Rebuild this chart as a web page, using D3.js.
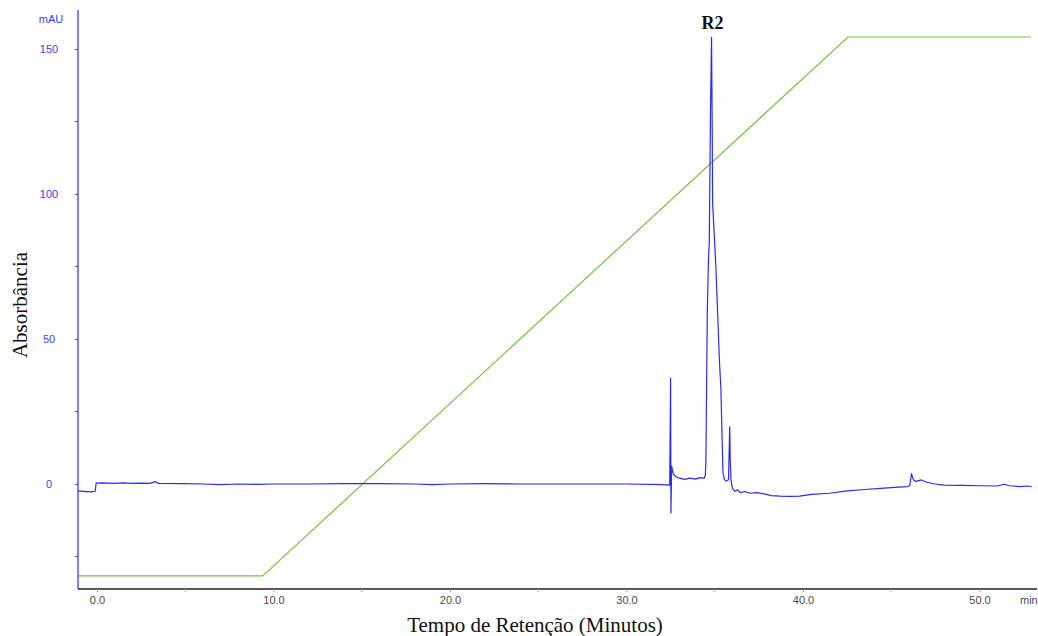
<!DOCTYPE html>
<html>
<head>
<meta charset="utf-8">
<script src="https://cdn.jsdelivr.net/npm/d3@7"></script>
<style>
  html, body { margin: 0; padding: 0; background: #fff; }
  svg { display: block; }
</style>
</head>
<body>
<svg id="chart" width="1038" height="636"></svg>
<script>
// Retention time (min) and absorbance (mAU) of the UV trace
const traceTime = [
  -1.08, -0.6, -0.3, -0.1, -0.05, 0.3, 1.0, 1.5, 2.0, 2.5, 3.0, 3.3, 3.5,
  5, 6, 7, 8, 9, 10, 12, 14, 16, 18, 19, 20, 22, 24, 26, 28, 30, 32, 32.45,
  32.50, 32.52, 32.56, 32.65, 32.8, 33.0, 33.3, 33.6, 33.9, 34.2, 34.4,
  34.47, 34.50, 34.54, 34.58, 34.65, 34.69, 34.72, 34.76, 34.82, 34.86, 34.88,
  34.96, 35.07, 35.18, 35.27, 35.35, 35.42, 35.47, 35.55, 35.65, 35.78,
  35.85, 35.88, 35.92, 36.0, 36.15, 36.3, 36.45, 36.7, 37.0, 37.4, 37.8,
  38.2, 38.7, 39.3, 39.8, 40.5, 41.5, 42.5, 43.5, 44.4, 45.2, 45.9, 46.05,
  46.15, 46.25, 46.4, 46.7, 47.0, 47.5, 48.0, 49.0, 50.0, 51.0, 51.4, 51.7,
  52.3, 52.7, 52.95
];
const traceAbs = [
  -2.4, -2.6, -2.7, -2.5, 0.3, 0.4, 0.2, 0.4, 0.2, 0.3, 0.2, 0.8, 0.2,
  0.1, 0.0, -0.2, 0.0, -0.1, 0.0, 0.0, 0.1, 0.1, 0.0, -0.2, 0.0, 0.1, 0.0, 0.0, 0.0, 0.0, -0.2, -0.4,
  36.5, -10, 6.2, 3.5, 2.5, 2.0, 1.6, 2.0, 1.7, 2.2, 2.0,
  3, 8, 34, 60, 78, 83, 101, 128, 154, 120, 97,
  87.6, 74, 56.6, 42, 33, 15, 3.8, 1.5, 1.0, 1.5,
  19.7, 8, 1.5, -1.5, -2.5, -2.0, -3.0, -2.6, -3.2, -3.0, -3.4,
  -4.0, -4.2, -4.3, -4.2, -3.6, -3.2, -2.4, -1.9, -1.5, -1.2, -0.9, -0.6,
  3.6, 1.5, 0.9, 1.4, 0.6, 0.0, -0.4, -0.5, -0.6, -0.7, -0.1, -0.6,
  -0.9, -0.7, -0.9
];

// Solvent gradient program (% B)
const gradTime = [-1.08, 9.39, 42.55, 52.92];
const gradPct = [0, 0, 100, 100];

// Axis ticks
const xTickLabels = [0, 10, 20, 30, 40, 50];
const xMinorTicks = [5, 15, 25, 35, 45];
const yTickLabels = [0, 50, 100, 150];
const yMinorTicks = [-25, 25, 75, 125];

// Peak annotation
const peakLabels = ["R2"];
const peakTimes = [34.82];
const peakHeights = [154];

const svg = d3.select("#chart");

const x = d3.scaleLinear().domain([-1.076, 53.26]).range([78, 1037]);
const y = d3.scaleLinear().domain([-36.2, 163.4]).range([589, 10]);
const yGrad = d3.scaleLinear().domain([0, 100]).range([y(-31.7), y(154.1)]);

const blue = "#2a2af5";
const tickBlue = "#3b3bff";

// Gradient line
const gradData = gradTime.map((t, i) => ({ t, v: gradPct[i] }));
svg.append("path")
  .datum(gradData)
  .attr("fill", "none")
  .attr("stroke", "#74c23a")
  .attr("stroke-width", 1.2)
  .attr("d", d3.line().x(d => x(d.t)).y(d => yGrad(d.v)));

// Absorbance trace
const traceData = traceTime.map((t, i) => ({ t, v: traceAbs[i] }));
svg.append("path")
  .datum(traceData)
  .attr("fill", "none")
  .attr("stroke", blue)
  .attr("stroke-width", 1.2)
  .attr("stroke-linejoin", "round")
  .attr("d", d3.line().x(d => x(d.t)).y(d => y(d.v)));

// X axis
const xAxis = svg.append("g").attr("transform", `translate(0,${y.range()[0]})`);
xAxis.call(d3.axisBottom(x).tickValues(xTickLabels).tickSize(3).tickFormat(d3.format(".1f")));
xAxis.select(".domain").attr("stroke", "#222").attr("stroke-width", 1.3).attr("d", `M${x.range()[0]},0H${x.range()[1]}`);
xAxis.selectAll(".tick line").attr("stroke", "#999");
xAxis.selectAll(".tick text")
  .attr("fill", "#4a4a4a")
  .attr("dy", "0.35em")
  .attr("y", 11)
  .style("font", "11px 'Liberation Sans', Arial, sans-serif");
xAxis.selectAll(".minor")
  .data(xMinorTicks).enter().append("line")
  .attr("x1", d => x(d)).attr("x2", d => x(d))
  .attr("y1", 0).attr("y2", 3)
  .attr("stroke", "#aaa");
svg.append("text")
  .attr("x", 1020).attr("y", 600).attr("dy", "0.35em")
  .attr("fill", "#4a4a4a")
  .style("font", "11px 'Liberation Sans', Arial, sans-serif")
  .text("min");

// Y axis
const yAxis = svg.append("g").attr("transform", `translate(${x.range()[0]},0)`);
yAxis.call(d3.axisLeft(y).tickValues(yTickLabels).tickSize(3).tickFormat(d3.format("d")));
yAxis.select(".domain").attr("stroke", tickBlue).attr("stroke-width", 1.3).attr("d", `M0,${y.range()[0]}V${y.range()[1]}`);
yAxis.selectAll(".tick line").attr("stroke", tickBlue);
yAxis.selectAll(".tick text")
  .attr("fill", tickBlue)
  .attr("x", -29)
  .attr("text-anchor", "middle")
  .style("font", "11px 'Liberation Sans', Arial, sans-serif");
yAxis.selectAll(".minor")
  .data(yMinorTicks).enter().append("line")
  .attr("x1", -3).attr("x2", 0)
  .attr("y1", d => y(d)).attr("y2", d => y(d))
  .attr("stroke", tickBlue);
svg.append("text")
  .attr("x", 51).attr("y", 23)
  .attr("text-anchor", "middle")
  .attr("fill", tickBlue)
  .style("font", "11px 'Liberation Sans', Arial, sans-serif")
  .text("mAU");

// Axis titles
svg.append("text")
  .attr("transform", "translate(27,305) rotate(-90)")
  .attr("text-anchor", "middle")
  .attr("fill", "#111")
  .style("font", "21px 'Liberation Serif', 'Times New Roman', serif")
  .text("Absorbância");
svg.append("text")
  .attr("x", 535).attr("y", 632)
  .attr("text-anchor", "middle")
  .attr("fill", "#111")
  .style("font", "21px 'Liberation Serif', 'Times New Roman', serif")
  .text("Tempo de Retenção (Minutos)");

// Peak label
svg.selectAll(".peak")
  .data(peakLabels).enter().append("text")
  .attr("x", (d, i) => x(peakTimes[i]) + 1)
  .attr("y", (d, i) => y(peakHeights[i]) - 8)
  .attr("text-anchor", "middle")
  .attr("fill", "#111")
  .style("font", "bold 18px 'Liberation Serif', 'Times New Roman', serif")
  .text(d => d);
</script>
</body>
</html>
